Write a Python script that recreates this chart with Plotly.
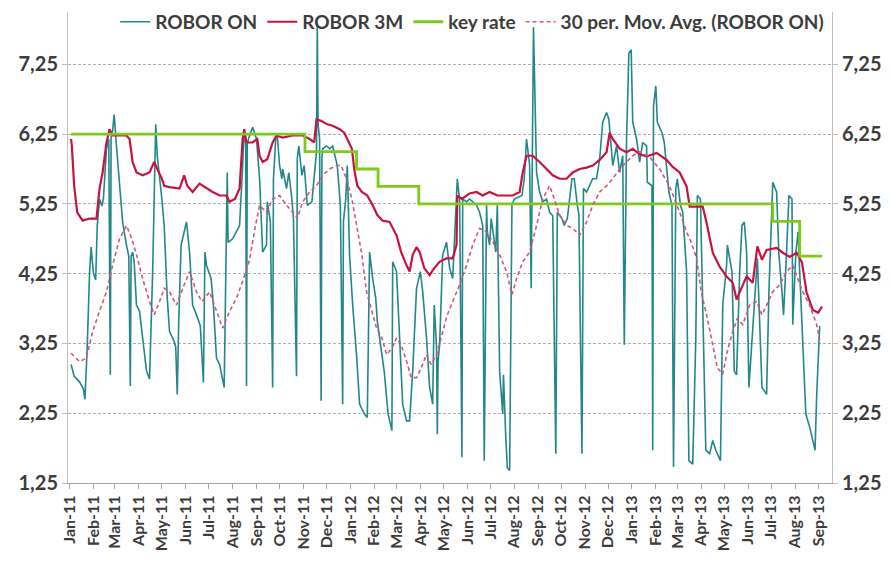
import plotly.graph_objects as go

# ---- data ----
robor_on = [
    ("2011-01-03", 2.95), ("2011-01-07", 2.78), ("2011-01-14", 2.70), ("2011-01-19", 2.60),
    ("2011-01-21", 2.45), ("2011-01-24", 3.20), ("2011-01-27", 4.26), ("2011-01-29", 4.63),
    ("2011-02-01", 4.26), ("2011-02-04", 4.16), ("2011-02-06", 4.94), ("2011-02-09", 5.32),
    ("2011-02-12", 5.22), ("2011-02-14", 5.32), ("2011-02-18", 6.04), ("2011-02-21", 6.18),
    ("2011-02-23", 2.80), ("2011-02-24", 6.20), ("2011-02-26", 6.30), ("2011-02-28", 6.53),
    ("2011-03-03", 6.08), ("2011-03-07", 5.56), ("2011-03-11", 4.99), ("2011-03-16", 4.66),
    ("2011-03-19", 4.50), ("2011-03-21", 2.64), ("2011-03-22", 4.50), ("2011-03-24", 4.56),
    ("2011-03-26", 4.42), ("2011-03-29", 3.80), ("2011-04-02", 3.71), ("2011-04-06", 3.33),
    ("2011-04-11", 2.86), ("2011-04-15", 2.74), ("2011-04-19", 4.26), ("2011-04-23", 6.39),
    ("2011-04-25", 5.94), ("2011-05-01", 5.32), ("2011-05-04", 4.94), ("2011-05-08", 3.90),
    ("2011-05-11", 3.42), ("2011-05-17", 3.28), ("2011-05-19", 3.20), ("2011-05-21", 2.52),
    ("2011-05-23", 3.60), ("2011-05-26", 4.66), ("2011-05-30", 4.85), ("2011-06-02", 4.99),
    ("2011-06-06", 4.56), ("2011-06-10", 3.80), ("2011-06-15", 3.66), ("2011-06-20", 3.50),
    ("2011-06-24", 2.69), ("2011-06-26", 4.56), ("2011-06-28", 4.37), ("2011-07-04", 4.18),
    ("2011-07-07", 3.80), ("2011-07-11", 3.04), ("2011-07-15", 2.95), ("2011-07-21", 2.62),
    ("2011-07-25", 5.70), ("2011-07-26", 4.70), ("2011-08-01", 4.75), ("2011-08-06", 4.85),
    ("2011-08-10", 4.94), ("2011-08-14", 5.80), ("2011-08-16", 6.32), ("2011-08-18", 6.10),
    ("2011-08-19", 2.64), ("2011-08-20", 6.10), ("2011-08-22", 6.20), ("2011-08-27", 6.35),
    ("2011-09-01", 6.18), ("2011-09-05", 5.61), ("2011-09-09", 4.56), ("2011-09-14", 4.66),
    ("2011-09-15", 5.28), ("2011-09-19", 5.00), ("2011-09-22", 2.62), ("2011-09-23", 5.60),
    ("2011-09-26", 6.18), ("2011-09-28", 6.23), ("2011-10-01", 5.80), ("2011-10-04", 5.61),
    ("2011-10-05", 5.75), ("2011-10-10", 5.47), ("2011-10-13", 5.70), ("2011-10-17", 5.32),
    ("2011-10-19", 5.04), ("2011-10-23", 2.78), ("2011-10-24", 5.90), ("2011-10-26", 6.08),
    ("2011-10-30", 5.66), ("2011-11-02", 5.80), ("2011-11-06", 5.23), ("2011-11-12", 5.28),
    ("2011-11-15", 5.61), ("2011-11-18", 6.00), ("2011-11-19", 7.85), ("2011-11-20", 6.40),
    ("2011-11-22", 6.18), ("2011-11-24", 2.43), ("2011-11-25", 5.90), ("2011-11-26", 6.04),
    ("2011-12-01", 6.08), ("2011-12-05", 6.04), ("2011-12-09", 6.08), ("2011-12-15", 5.80),
    ("2011-12-19", 5.23), ("2011-12-22", 2.38), ("2011-12-23", 5.00), ("2011-12-26", 5.32),
    ("2011-12-28", 5.80), ("2011-12-31", 4.51), ("2012-01-04", 3.80), ("2012-01-09", 3.09),
    ("2012-01-13", 2.38), ("2012-01-19", 2.24), ("2012-01-23", 2.19), ("2012-01-26", 4.56),
    ("2012-01-30", 4.18), ("2012-02-03", 3.90), ("2012-02-05", 3.57), ("2012-02-14", 2.85),
    ("2012-02-19", 2.24), ("2012-02-24", 2.00), ("2012-02-25", 4.42), ("2012-03-01", 4.28),
    ("2012-03-05", 3.33), ("2012-03-09", 2.38), ("2012-03-14", 2.14), ("2012-03-18", 2.14),
    ("2012-03-22", 2.85), ("2012-03-27", 4.04), ("2012-04-01", 4.28), ("2012-04-04", 3.99),
    ("2012-04-09", 3.33), ("2012-04-13", 2.62), ("2012-04-17", 2.38), ("2012-04-19", 3.80),
    ("2012-04-22", 3.20), ("2012-04-23", 1.95), ("2012-04-24", 3.00), ("2012-04-26", 3.23),
    ("2012-04-30", 4.52), ("2012-05-05", 4.70), ("2012-05-09", 4.33), ("2012-05-13", 4.18),
    ("2012-05-15", 4.66), ("2012-05-19", 5.61), ("2012-05-22", 5.30), ("2012-05-25", 1.62),
    ("2012-05-26", 5.32), ("2012-05-31", 5.28), ("2012-06-04", 5.32), ("2012-06-13", 5.23),
    ("2012-06-17", 5.13), ("2012-06-21", 4.94), ("2012-06-23", 1.57), ("2012-06-25", 5.00),
    ("2012-06-26", 5.23), ("2012-06-27", 4.85), ("2012-06-30", 4.66), ("2012-07-02", 5.04),
    ("2012-07-08", 4.56), ("2012-07-10", 5.23), ("2012-07-13", 2.85), ("2012-07-17", 2.24),
    ("2012-07-18", 2.80), ("2012-07-21", 1.90), ("2012-07-23", 1.47), ("2012-07-26", 1.43),
    ("2012-07-29", 5.23), ("2012-08-01", 5.32), ("2012-08-11", 5.37), ("2012-08-14", 5.61),
    ("2012-08-17", 6.18), ("2012-08-21", 5.80), ("2012-08-23", 4.04), ("2012-08-26", 7.78),
    ("2012-08-29", 6.00), ("2012-08-30", 5.70), ("2012-09-03", 5.42), ("2012-09-07", 5.28),
    ("2012-09-12", 5.32), ("2012-09-16", 5.13), ("2012-09-20", 5.08), ("2012-09-24", 1.67),
    ("2012-09-26", 5.13), ("2012-10-02", 5.04), ("2012-10-05", 4.94), ("2012-10-09", 5.04),
    ("2012-10-15", 5.61), ("2012-10-18", 5.61), ("2012-10-22", 5.23), ("2012-10-24", 5.10),
    ("2012-10-28", 1.67), ("2012-10-30", 5.47), ("2012-11-03", 5.42), ("2012-11-07", 5.51),
    ("2012-11-11", 5.61), ("2012-11-16", 5.61), ("2012-11-20", 5.89), ("2012-11-24", 6.42),
    ("2012-11-29", 6.56), ("2012-12-02", 6.46), ("2012-12-07", 5.80), ("2012-12-12", 6.08),
    ("2012-12-16", 5.70), ("2012-12-20", 5.94), ("2012-12-22", 3.23), ("2012-12-25", 6.18),
    ("2012-12-28", 7.41), ("2012-12-31", 7.46), ("2013-01-02", 6.42), ("2013-01-07", 6.18),
    ("2013-01-11", 5.85), ("2013-01-15", 6.13), ("2013-01-20", 6.08), ("2013-01-21", 5.56),
    ("2013-01-27", 5.51), ("2013-01-28", 1.72), ("2013-01-29", 6.65), ("2013-02-01", 6.94),
    ("2013-02-03", 6.42), ("2013-02-09", 6.27), ("2013-02-12", 6.13), ("2013-02-18", 5.42),
    ("2013-02-22", 5.23), ("2013-02-24", 1.48), ("2013-02-27", 5.47), ("2013-03-01", 5.61),
    ("2013-03-05", 5.23), ("2013-03-08", 5.13), ("2013-03-13", 4.28), ("2013-03-16", 1.57),
    ("2013-03-21", 1.52), ("2013-03-25", 3.33), ("2013-03-27", 5.37), ("2013-03-31", 5.32),
    ("2013-04-03", 3.80), ("2013-04-07", 1.72), ("2013-04-12", 1.67), ("2013-04-16", 1.86),
    ("2013-04-20", 1.72), ("2013-04-24", 1.62), ("2013-04-26", 1.57), ("2013-04-29", 3.80),
    ("2013-05-04", 4.37), ("2013-05-05", 4.66), ("2013-05-11", 4.28), ("2013-05-14", 2.85),
    ("2013-05-17", 2.80), ("2013-05-21", 4.28), ("2013-05-24", 4.94), ("2013-05-27", 4.99),
    ("2013-05-30", 4.56), ("2013-06-02", 2.62), ("2013-06-06", 3.33), ("2013-06-09", 3.80),
    ("2013-06-13", 4.47), ("2013-06-19", 2.62), ("2013-06-25", 2.52), ("2013-06-28", 3.99),
    ("2013-07-02", 5.13), ("2013-07-03", 5.56), ("2013-07-08", 5.42), ("2013-07-11", 4.52),
    ("2013-07-15", 3.99), ("2013-07-17", 3.66), ("2013-07-21", 4.56), ("2013-07-24", 5.37),
    ("2013-07-28", 5.32), ("2013-07-29", 3.52), ("2013-08-02", 4.56), ("2013-08-05", 4.85),
    ("2013-08-07", 4.28), ("2013-08-11", 3.33), ("2013-08-15", 2.24), ("2013-08-20", 2.05),
    ("2013-08-27", 1.72), ("2013-08-29", 2.48), ("2013-09-02", 3.50),
]

robor_3m = [
    ("2011-01-03", 6.18), ("2011-01-04", 6.08), ("2011-01-07", 5.51), ("2011-01-11", 5.13),
    ("2011-01-18", 5.01), ("2011-01-27", 5.04), ("2011-02-05", 5.04), ("2011-02-09", 5.47),
    ("2011-02-13", 5.70), ("2011-02-18", 6.13), ("2011-02-22", 6.32), ("2011-02-26", 6.23),
    ("2011-03-10", 6.23), ("2011-03-16", 6.23), ("2011-03-20", 6.18), ("2011-03-24", 5.85),
    ("2011-03-29", 5.70), ("2011-04-06", 5.66), ("2011-04-15", 5.70), ("2011-04-21", 5.85),
    ("2011-04-25", 5.75), ("2011-05-01", 5.61), ("2011-05-04", 5.51), ("2011-05-11", 5.49),
    ("2011-05-24", 5.47), ("2011-05-30", 5.66), ("2011-06-03", 5.51), ("2011-06-10", 5.42),
    ("2011-06-19", 5.54), ("2011-06-28", 5.47), ("2011-07-06", 5.42), ("2011-07-15", 5.37),
    ("2011-07-24", 5.37), ("2011-07-28", 5.28), ("2011-08-04", 5.32), ("2011-08-10", 5.47),
    ("2011-08-14", 6.18), ("2011-08-16", 6.32), ("2011-08-19", 6.13), ("2011-08-27", 6.13),
    ("2011-09-02", 6.18), ("2011-09-05", 5.94), ("2011-09-09", 5.85), ("2011-09-15", 5.89),
    ("2011-09-22", 6.13), ("2011-09-27", 6.23), ("2011-10-05", 6.20), ("2011-10-18", 6.23),
    ("2011-10-31", 6.23), ("2011-11-09", 6.18), ("2011-11-15", 6.13), ("2011-11-18", 6.46),
    ("2011-11-24", 6.44), ("2011-12-02", 6.39), ("2011-12-09", 6.37), ("2011-12-18", 6.32),
    ("2011-12-24", 6.27), ("2011-12-28", 6.18), ("2012-01-03", 6.04), ("2012-01-06", 5.75),
    ("2012-01-10", 5.51), ("2012-01-16", 5.42), ("2012-01-23", 5.37), ("2012-01-30", 5.23),
    ("2012-02-05", 5.09), ("2012-02-12", 5.01), ("2012-02-21", 4.99), ("2012-03-01", 4.80),
    ("2012-03-07", 4.56), ("2012-03-14", 4.37), ("2012-03-18", 4.28), ("2012-03-22", 4.52),
    ("2012-03-27", 4.63), ("2012-03-31", 4.56), ("2012-04-06", 4.33), ("2012-04-13", 4.23),
    ("2012-04-19", 4.33), ("2012-04-26", 4.42), ("2012-05-05", 4.47), ("2012-05-13", 4.47),
    ("2012-05-18", 4.66), ("2012-05-19", 5.37), ("2012-05-25", 5.32), ("2012-06-04", 5.40),
    ("2012-06-13", 5.42), ("2012-06-21", 5.37), ("2012-06-30", 5.42), ("2012-07-10", 5.37),
    ("2012-07-22", 5.37), ("2012-07-30", 5.37), ("2012-08-08", 5.42), ("2012-08-12", 5.70),
    ("2012-08-17", 5.94), ("2012-08-25", 5.94), ("2012-09-03", 5.85), ("2012-09-12", 5.75),
    ("2012-09-20", 5.66), ("2012-09-29", 5.61), ("2012-10-08", 5.61), ("2012-10-16", 5.70),
    ("2012-10-25", 5.75), ("2012-11-03", 5.77), ("2012-11-11", 5.80), ("2012-11-20", 5.88),
    ("2012-11-29", 5.99), ("2012-12-03", 6.27), ("2012-12-07", 6.18), ("2012-12-16", 6.04),
    ("2012-12-25", 5.99), ("2013-01-02", 6.04), ("2013-01-11", 5.96), ("2013-01-20", 5.93),
    ("2013-02-02", 5.98), ("2013-02-15", 5.88), ("2013-02-23", 5.78), ("2013-03-04", 5.70),
    ("2013-03-13", 5.50), ("2013-03-17", 5.21), ("2013-03-26", 5.21), ("2013-04-03", 5.21),
    ("2013-04-08", 4.98), ("2013-04-16", 4.55), ("2013-04-25", 4.35), ("2013-05-04", 4.21),
    ("2013-05-12", 4.12), ("2013-05-17", 3.88), ("2013-05-24", 4.06), ("2013-05-30", 4.21),
    ("2013-06-07", 4.12), ("2013-06-13", 4.64), ("2013-06-19", 4.45), ("2013-06-25", 4.59),
    ("2013-07-08", 4.62), ("2013-07-16", 4.55), ("2013-07-25", 4.49), ("2013-08-03", 4.55),
    ("2013-08-10", 4.41), ("2013-08-16", 3.98), ("2013-08-24", 3.73), ("2013-08-31", 3.69),
    ("2013-09-05", 3.78),
]

key_rate = [
    ("2011-01-03", 6.25), ("2011-11-03", 6.00), ("2012-01-09", 5.75), ("2012-02-06", 5.50),
    ("2012-03-30", 5.25), ("2013-07-03", 5.00), ("2013-08-07", 4.50), ("2013-09-05", 4.50),
]

mov_avg_30 = [
    ("2011-01-03", 3.11), ("2011-01-14", 2.99), ("2011-01-23", 3.04), ("2011-01-31", 3.42),
    ("2011-02-09", 3.71), ("2011-02-18", 3.99), ("2011-02-26", 4.37), ("2011-03-07", 4.75),
    ("2011-03-16", 4.94), ("2011-03-23", 4.75), ("2011-03-29", 4.52), ("2011-04-06", 4.18),
    ("2011-04-15", 3.85), ("2011-04-21", 3.66), ("2011-04-28", 3.85), ("2011-05-04", 4.04),
    ("2011-05-11", 3.99), ("2011-05-20", 3.80), ("2011-05-30", 4.09), ("2011-06-06", 4.28),
    ("2011-06-15", 3.99), ("2011-06-22", 3.85), ("2011-07-02", 3.99), ("2011-07-11", 3.71),
    ("2011-07-19", 3.47), ("2011-07-28", 3.71), ("2011-08-06", 3.90), ("2011-08-14", 4.14),
    ("2011-08-23", 4.45), ("2011-08-30", 4.90), ("2011-09-05", 5.23), ("2011-09-14", 5.13),
    ("2011-09-22", 5.32), ("2011-10-01", 5.37), ("2011-10-10", 5.23), ("2011-10-18", 5.13),
    ("2011-10-24", 5.04), ("2011-10-31", 5.28), ("2011-11-09", 5.42), ("2011-11-18", 5.51),
    ("2011-11-26", 5.66), ("2011-12-05", 5.75), ("2011-12-14", 5.80), ("2011-12-20", 5.80),
    ("2011-12-27", 5.61), ("2012-01-03", 5.32), ("2012-01-09", 4.94), ("2012-01-16", 4.52),
    ("2012-01-22", 3.99), ("2012-01-29", 3.71), ("2012-02-04", 3.47), ("2012-02-11", 3.33),
    ("2012-02-17", 3.09), ("2012-02-24", 3.18), ("2012-03-01", 3.33), ("2012-03-07", 3.23),
    ("2012-03-14", 3.00), ("2012-03-20", 2.76), ("2012-03-27", 2.76), ("2012-04-02", 2.90),
    ("2012-04-09", 3.09), ("2012-04-15", 2.95), ("2012-04-22", 3.09), ("2012-04-28", 3.33),
    ("2012-05-05", 3.63), ("2012-05-13", 3.85), ("2012-05-22", 4.09), ("2012-05-31", 4.37),
    ("2012-06-08", 4.66), ("2012-06-17", 4.90), ("2012-06-26", 4.85), ("2012-07-04", 4.71),
    ("2012-07-13", 4.52), ("2012-07-22", 4.28), ("2012-07-29", 3.95), ("2012-08-04", 4.18),
    ("2012-08-12", 4.42), ("2012-08-21", 4.56), ("2012-08-30", 4.94), ("2012-09-07", 5.32),
    ("2012-09-16", 5.51), ("2012-09-22", 5.32), ("2012-09-29", 5.09), ("2012-10-08", 4.94),
    ("2012-10-16", 4.90), ("2012-10-25", 4.80), ("2012-11-03", 4.99), ("2012-11-11", 5.23),
    ("2012-11-20", 5.42), ("2012-11-29", 5.51), ("2012-12-07", 5.61), ("2012-12-16", 5.75),
    ("2012-12-25", 5.85), ("2013-01-02", 5.94), ("2013-01-11", 6.00), ("2013-01-24", 5.92),
    ("2013-02-06", 5.75), ("2013-02-19", 5.50), ("2013-03-04", 5.13), ("2013-03-13", 4.85),
    ("2013-03-19", 4.70), ("2013-03-26", 4.47), ("2013-04-01", 3.99), ("2013-04-08", 3.66),
    ("2013-04-16", 3.23), ("2013-04-22", 2.90), ("2013-04-29", 2.81), ("2013-05-05", 3.14),
    ("2013-05-12", 3.42), ("2013-05-18", 3.61), ("2013-05-25", 3.52), ("2013-06-03", 3.80),
    ("2013-06-12", 3.85), ("2013-06-19", 3.66), ("2013-06-25", 3.80), ("2013-07-03", 3.99),
    ("2013-07-12", 4.09), ("2013-07-21", 4.28), ("2013-07-29", 4.37), ("2013-08-05", 4.18),
    ("2013-08-11", 3.99), ("2013-08-20", 3.80), ("2013-08-29", 3.52), ("2013-09-02", 3.30),
]

y_ticks = [1.25, 2.25, 3.25, 4.25, 5.25, 6.25, 7.25]

FONT = "Lato"
TXT = "#3C3C3C"


def split(series):
    return [d for d, _ in series], [v for _, v in series]


fig = go.Figure()

x, y = split(robor_on)
fig.add_trace(go.Scatter(x=x, y=y, name="ROBOR ON", mode="lines",
                         line=dict(color="#23878A", width=1.6)))
x, y = split(robor_3m)
fig.add_trace(go.Scatter(x=x, y=y, name="ROBOR 3M", mode="lines",
                         line=dict(color="#C8123F", width=2.2)))
x, y = split(key_rate)
fig.add_trace(go.Scatter(x=x, y=y, name="key rate", mode="lines",
                         line=dict(color="#7CCB1A", width=2.8, shape="hv")))
x, y = split(mov_avg_30)
fig.add_trace(go.Scatter(x=x, y=y, name="30 per. Mov. Avg. (ROBOR ON)", mode="lines",
                         line=dict(color="#D2557A", width=1.6, dash="4px,3px")))
# invisible trace so the mirrored right axis is drawn
fig.add_trace(go.Scatter(x=[robor_on[0][0]], y=[None], yaxis="y2", showlegend=False,
                         hoverinfo="skip", mode="lines"))

yr = [1.25, 8.0]
tickfont = dict(family=FONT, size=20, color=TXT, weight="bold")

fig.update_layout(
    width=884, height=553,
    margin=dict(l=60, r=60, t=4, b=78, autoexpand=False),
    paper_bgcolor="white", plot_bgcolor="white",
    separators=",.",
    showlegend=True,
    legend=dict(orientation="h", x=0.529, xanchor="center", y=0.979, yanchor="middle",
                bgcolor="rgba(0,0,0,0)", font=dict(family=FONT, size=19, color=TXT, weight="bold"),
                itemwidth=30, tracegroupgap=0),
    xaxis=dict(type="date", range=["2010-12-30", "2013-09-18"], automargin=False,
               tick0="2011-01-01", dtick="M1", tickformat="%b-%y", tickangle=-90,
               tickfont=dict(family=FONT, size=16, color=TXT, weight="bold"),
               showline=True, linecolor="#A6A6A6", linewidth=1,
               ticks="outside", ticklen=5, tickcolor="#A6A6A6",
               showgrid=False, zeroline=False),
    yaxis=dict(range=yr, tickvals=y_ticks, tickformat=".2f", tickfont=tickfont,
               automargin=False,
               showline=True, linecolor="#BFBFBF", linewidth=1,
               ticks="outside", ticklen=5, tickcolor="#BFBFBF",
               showgrid=True, gridcolor="#B0B0B0", griddash="3px,2px", gridwidth=1,
               zeroline=False),
    yaxis2=dict(range=yr, tickvals=y_ticks, tickformat=".2f", tickfont=tickfont,
                overlaying="y", side="right", automargin=False,
                showline=True, linecolor="#BFBFBF", linewidth=1,
                ticks="outside", ticklen=5, tickcolor="#BFBFBF",
                showgrid=False, zeroline=False),
)

fig.write_html("out.html")
